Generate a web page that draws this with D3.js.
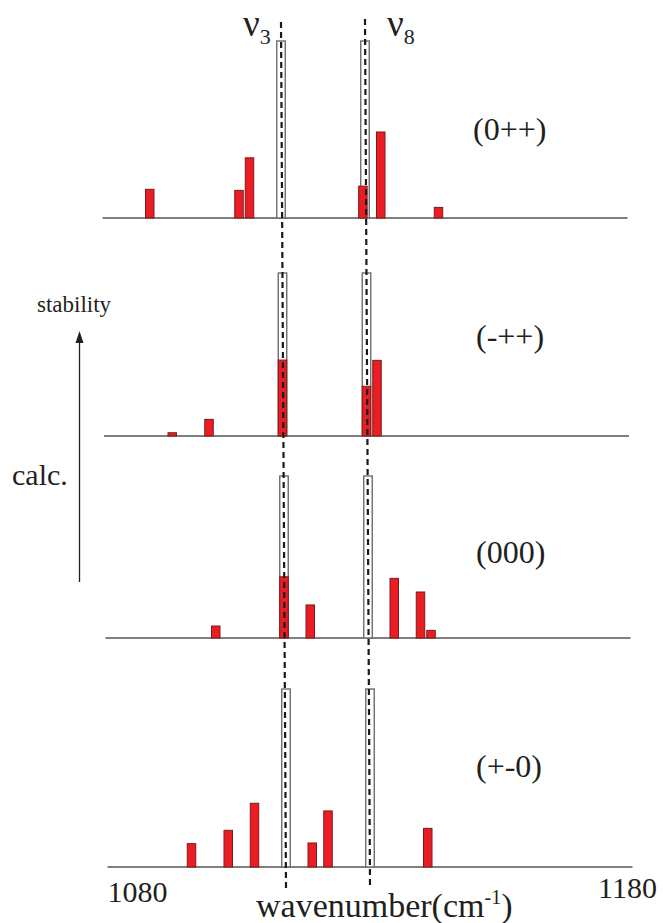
<!DOCTYPE html>
<html>
<head>
<meta charset="utf-8">
<script src="https://cdn.jsdelivr.net/npm/d3@7"></script>
<style>
  body { margin: 0; background: #fff; }
</style>
</head>
<body>
<script>
// conformer names, top (most stable) to bottom
var conformers = ['(0++)', '(-++)', '(000)', '(+-0)'];

// experimental bands (white bars)
var modeNames = ['3', '8'];
var modeWavenumbers = [1114, 1130];

// calculated bands (red bars), relative intensity, white bar = 1
var calcWavenumbers = [
    [1089, 1106, 1108, 1129.6, 1133, 1144],
    [1093, 1100, 1114, 1130, 1132],
    [1101, 1114, 1119, 1135, 1140, 1142],
    [1096, 1103, 1108, 1119, 1122, 1141]
];
var calcIntensities = [
    [0.162, 0.156, 0.34, 0.18, 0.486, 0.06],
    [0.02, 0.102, 0.466, 0.305, 0.464],
    [0.074, 0.378, 0.204, 0.368, 0.284, 0.047],
    [0.131, 0.206, 0.358, 0.135, 0.315, 0.217]
];

var axisTicks = [1080, 1180];

var W = 663, H = 923;
var baselines = [218, 436, 638, 867];
var panelHeights = [177, 163, 162, 178];
var shifts = [0, 1.5, 3, 5];   // the panels drift a bit to the right going down
var barW = 8.5;

var svg = d3.select('body').append('svg')
    .attr('width', W)
    .attr('height', H);

function xScale(i) {
    return d3.scaleLinear()
        .domain([1080, 1180])
        .range([102.5 + shifts[i], 627.5 + shifts[i]]);
}
function yScale(i) {
    return d3.scaleLinear()
        .domain([0, 1])
        .range([baselines[i], baselines[i] - panelHeights[i]]);
}

function label(x, y, size, txt) {
    return svg.append('text')
        .attr('x', x)
        .attr('y', y)
        .attr('font-family', 'Liberation Serif')
        .attr('font-size', size)
        .attr('fill', '#231f20')
        .text(txt);
}

var panels = svg.selectAll('g.panel')
    .data(conformers)
    .enter()
    .append('g')
    .attr('class', 'panel');

panels.each(function (name, i) {
    var g = d3.select(this);
    var x = xScale(i), y = yScale(i);

    // baseline
    g.append('line')
        .attr('x1', x(1080)).attr('x2', x(1180))
        .attr('y1', y(0)).attr('y2', y(0))
        .attr('stroke', '#555')
        .attr('stroke-width', 1.3);

    // experimental bands
    g.selectAll('rect.exp')
        .data(modeWavenumbers)
        .enter()
        .append('rect')
        .attr('class', 'exp')
        .attr('x', function (d) { return x(d) - barW / 2; })
        .attr('y', y(1))
        .attr('width', barW)
        .attr('height', y(0) - y(1))
        .attr('fill', '#fff')
        .attr('stroke', '#6d6d6d')
        .attr('stroke-width', 1.4);

    // calculated bands
    var bars = calcWavenumbers[i].map(function (w, j) {
        return { w: w, v: calcIntensities[i][j] };
    });
    g.selectAll('rect.calc')
        .data(bars)
        .enter()
        .append('rect')
        .attr('class', 'calc')
        .attr('x', function (d) { return x(d.w) - barW / 2; })
        .attr('y', function (d) { return y(d.v); })
        .attr('width', barW)
        .attr('height', function (d) { return y(0) - y(d.v); })
        .attr('fill', '#ec1c24')
        .attr('stroke', '#7b1c1c')
        .attr('stroke-width', 1);
});

conformers.forEach(function (name, i) {
    label([473, 476, 476, 476][i], [140, 347, 563, 777][i], 32, name);
});

// dashed guide lines through the experimental bands, top panel to bottom
var xTop = xScale(0), xBot = xScale(3);
svg.selectAll('line.guide')
    .data(modeWavenumbers)
    .enter()
    .append('line')
    .attr('class', 'guide')
    .attr('x1', function (d) { return xTop(d); })
    .attr('x2', function (d) { return xBot(d); })
    .attr('y1', function (d, i) { return [22, 19][i]; })
    .attr('y2', function (d, i) { return [888, 885][i]; })
    .attr('stroke', '#1a1a1a')
    .attr('stroke-width', 2.2)
    .attr('stroke-dasharray', '6,4');

// mode labels
modeNames.forEach(function (m, i) {
    var t = label([243, 387][i], 36, 37, 'ν');
    t.append('tspan')
        .attr('dy', 8)
        .attr('font-size', 22)
        .text(m);
});

// x labels
var xb = xScale(3);
label(xb(axisTicks[0]), 902, 30, axisTicks[0]);
label(xb(axisTicks[1]) - 5, 898, 30, axisTicks[1])
    .attr('text-anchor', 'middle');

var xt = label(256, 917, 34, null);
xt.append('tspan').text('wavenumber(cm');
xt.append('tspan').attr('dy', -13).attr('font-size', 20).text('-1');
xt.append('tspan').attr('dy', 13).text(')');

// stability arrow
svg.append('line')
    .attr('x1', 79.5).attr('x2', 79.5)
    .attr('y1', 582).attr('y2', 340)
    .attr('stroke', '#231f20')
    .attr('stroke-width', 1.3);
svg.append('path')
    .attr('d', 'M79.5,331 L75.5,343 L83.5,343 Z')
    .attr('fill', '#231f20');

label(37, 312, 23, 'stability');
label(12, 485, 30, 'calc.');
</script>
</body>
</html>
